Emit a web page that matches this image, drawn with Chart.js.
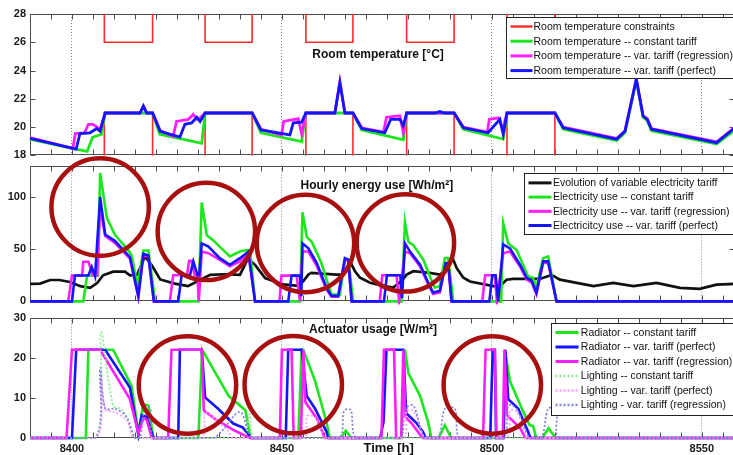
<!DOCTYPE html>
<html><head><meta charset="utf-8">
<script src="https://cdn.jsdelivr.net/npm/chart.js@4"></script>
<style>
html,body{margin:0;padding:0;background:#fff;width:733px;height:455px;overflow:hidden;position:relative;}
canvas{position:absolute;left:0;}
</style></head>
<body>
<canvas id="cTemp" width="735" height="166" style="top:0px"></canvas>
<canvas id="cEnergy" width="735" height="157" style="top:155px"></canvas>
<canvas id="cAct" width="735" height="148" style="top:307px"></canvas>
<script>
// ---------------- DATA (hour, value) ----------------
const X_MIN = 8390, X_MAX = 8557.9;

// Room temperature [°C]
const constraintUpper = [[8390,30],[8407.7,26],[8419.2,30],[8431.7,26],[8442.9,30],[8455.7,26],[8466.9,30],[8479.7,26],[8491,30],[8503.6,26],[8515,30],[8557.9,30]];
const constraintLower = [[8390,16],[8407.7,21],[8419.2,16],[8431.7,21],[8442.9,16],[8455.7,21],[8466.9,16],[8479.7,21],[8491,16],[8503.6,21],[8515,16],[8557.9,16]];
const tempConstant = [[8390,19.15],[8400,18.5],[8403.6,18.28],[8404.9,19.27],[8407,19.5],[8407.9,21],[8419.2,21],[8420.9,19.5],[8430.9,18.85],[8431.7,21],[8442.9,21],[8445,19.6],[8454.7,18.97],[8455.7,21],[8466.9,21],[8469,19.8],[8478.9,19.1],[8479.7,21],[8491,21],[8493.2,19.85],[8502.7,19.15],[8503.6,21],[8515,21],[8517,19.85],[8529.7,19.05],[8531.7,19.6],[8534.4,23.3],[8536,20.7],[8537,20.45],[8538,19.75],[8553.5,18.8],[8557.9,19.8]];
const tempRegression = [[8390,19.25],[8400.2,18.5],[8400.8,19.55],[8403,19.6],[8403.9,20.2],[8405,20.2],[8406.7,19.85],[8407.9,21],[8416.2,21],[8417,21.5],[8417.8,21],[8419.2,21],[8421,19.75],[8424.1,19.35],[8424.9,20.4],[8427.7,20.55],[8428.9,20.9],[8429.7,20.55],[8430.5,20.65],[8431.7,21],[8442.9,21],[8445,19.85],[8449.9,19.45],[8450.4,20.4],[8453.9,20.6],[8454.7,19.5],[8455.7,21],[8462.6,21],[8463.8,23.2],[8465,21],[8466.9,21],[8469,19.95],[8474.2,19.65],[8474.9,20.7],[8478.1,20.8],[8478.9,19.6],[8479.7,21],[8491,21],[8493.2,20],[8498.9,19.65],[8499.4,20.55],[8501.5,20.65],[8502.6,19.85],[8503.6,21],[8515,21],[8517,20],[8529.7,19.2],[8531.7,19.75],[8534.4,23.4],[8536,20.8],[8537,20.6],[8538,19.9],[8553.5,18.95],[8557.9,20]];
const tempPerfect = [[8390,19.2],[8401,18.45],[8401.9,19.55],[8404.3,19.6],[8405.9,19.9],[8406.7,19.7],[8407.9,21],[8416.2,21],[8417,21.5],[8417.8,21],[8419.2,21],[8421,19.7],[8425.7,19.3],[8426.9,20.2],[8428.5,20.3],[8429.7,20.7],[8430.5,20.4],[8431.7,21],[8442.9,21],[8445,19.8],[8451.9,19.45],[8452.7,20.3],[8454.7,20.35],[8455.7,21],[8462.6,21],[8463.8,23.15],[8465,21],[8466.9,21],[8469,19.9],[8474.5,19.6],[8475.9,20.55],[8478.1,20.55],[8478.9,20.1],[8479.7,21],[8486.5,21],[8487.6,21.1],[8488.7,21],[8491,21],[8493.2,19.95],[8499.1,19.6],[8501.9,20.55],[8502.7,19.5],[8503.6,21],[8515,21],[8517,19.95],[8529.7,19.15],[8531.7,19.7],[8534.4,23.4],[8536,20.8],[8537,20.55],[8538,19.85],[8553.5,18.9],[8557.9,19.95]];

// Hourly energy use [Wh/m2]
const tariff = [[8390,16.8],[8392.4,17],[8394.8,20.5],[8397,20.5],[8399.5,18.6],[8402,14.6],[8404.3,13],[8406,17.5],[8407.4,25],[8409.8,28.5],[8412.6,28.5],[8413.8,25],[8415.5,25.5],[8417.4,43],[8419,34.5],[8421,21],[8424.5,17],[8427.6,14.6],[8430.5,20.5],[8432.9,25.4],[8436.4,26],[8440,25.4],[8441.9,41],[8443.6,35],[8446,22.3],[8447.9,19.5],[8450.3,16.3],[8453.9,14.8],[8455.1,19.5],[8456.3,25.7],[8457,27.3],[8463,25.7],[8464.6,25.7],[8466.2,38.3],[8467.4,28.9],[8468.6,22.6],[8471,17.9],[8474.1,14.8],[8476.5,13.2],[8478.5,19.5],[8479.7,25.7],[8481.3,28.9],[8485.2,27.3],[8487.6,25.7],[8489.2,30.4],[8490.6,42],[8491.6,32],[8493.2,22.6],[8494.8,19],[8500.3,14.6],[8501.9,14.6],[8503.5,20.8],[8505.1,21.5],[8511.4,21.5],[8514.2,25.4],[8516.2,20.8],[8520.2,17.7],[8524.2,14.6],[8528.9,17.7],[8533.7,14.6],[8539.2,17.7],[8544.8,13],[8549.5,12],[8553.5,16],[8557.9,16.8]];
const elecConstant = [[8390,0],[8402.7,0],[8403.6,24.8],[8406.2,24.8],[8406.7,123],[8408.3,80],[8410.2,64],[8413.8,47],[8414.2,44],[8415.6,15],[8417,48.7],[8418.2,48.7],[8419.8,0],[8430.1,0],[8430.9,94.7],[8432.1,63.3],[8433.6,58.6],[8437.6,43],[8440,47.7],[8441.6,49.2],[8442.4,49],[8443.6,0],[8454.3,0],[8454.9,85.3],[8455.9,61.8],[8457.1,57.1],[8459.4,36.7],[8460.6,21],[8461.8,6.9],[8463.8,6],[8465,39.8],[8465.8,39.8],[8467,0],[8478.5,0],[8479.3,76],[8480.1,57.1],[8481.3,53.9],[8483.7,39.8],[8485.2,24.1],[8486.4,13.2],[8487.6,14.8],[8488.8,41.4],[8489.6,41.4],[8490.8,0],[8502.2,0],[8502.7,75],[8503.9,55.5],[8505.9,49.2],[8508.6,24.1],[8509.8,22.6],[8510.6,13.2],[8512.2,41.4],[8513.4,43],[8515.4,0],[8557.9,0]];
const elecRegression = [[8390,0],[8399.1,0],[8400,24.8],[8402.4,24.8],[8402.7,37.9],[8403.9,37.9],[8405,25],[8406,25],[8406.7,90],[8407.9,62.7],[8410.2,56],[8413.8,41],[8415.8,4],[8417,44],[8418.2,43],[8419.5,0],[8423.3,0],[8424.1,25.1],[8427.4,25.1],[8427.9,38.9],[8428.5,38.9],[8429.2,25.1],[8429.9,25.1],[8430.2,0],[8430.9,47.7],[8432.5,46.1],[8435.2,39.8],[8437.6,33.6],[8440,38.3],[8442,46.1],[8443.6,0],[8449.4,0],[8449.9,24.7],[8453.5,24.7],[8454.3,0],[8454.9,47.7],[8456.3,47.7],[8458.3,34],[8460.6,11.5],[8461.8,4.5],[8463.4,4.5],[8465,40],[8465.8,39],[8466.6,0],[8473.3,0],[8473.9,25],[8477.3,25],[8477.9,0],[8479.3,47.7],[8480.5,46.1],[8482.9,33.5],[8485.2,13.2],[8486,7],[8487.6,8.5],[8489,35],[8489.6,35],[8490.4,0],[8497.7,0],[8498.4,25],[8500.7,25],[8501.2,0],[8502.7,46.1],[8504.3,47.7],[8506.7,33.5],[8508.3,21],[8509.5,18],[8510.6,6.9],[8512.2,36.7],[8513.4,36.7],[8515.4,0],[8557.9,0]];
const elecPerfect = [[8390,0],[8400,0],[8400.7,24.8],[8403.9,24.8],[8404.7,33],[8405.5,24],[8406.7,100],[8407.9,64],[8410.2,58],[8413.8,42.5],[8415.8,5.3],[8417,45.6],[8418.2,44],[8419.5,0],[8425.3,0],[8426.1,25],[8428.1,25],[8428.9,38.3],[8429.9,25],[8430.3,25],[8430.9,55.5],[8432.5,52.4],[8435.2,41.4],[8437.6,35.1],[8440,41.4],[8442,47.7],[8443.6,0],[8451.5,0],[8452.3,24.7],[8454.3,24.7],[8454.6,5],[8454.9,55.5],[8456.3,50.8],[8458.3,36.7],[8460.6,13.2],[8461.8,5.3],[8463.4,5.3],[8465,41.4],[8465.8,40],[8466.6,0],[8474.3,0],[8475,25],[8478.2,25],[8478.6,3],[8479.3,55.5],[8480.5,47.7],[8482.9,35.1],[8485.2,14.8],[8486,8.5],[8487.6,10.1],[8489,36.7],[8489.6,36.7],[8490.4,0],[8499.4,0],[8500.1,25],[8500.9,25],[8501.5,0],[8502.7,54.6],[8504.3,50.8],[8506.7,35.1],[8508.3,22.6],[8509.5,19.5],[8510.6,8.5],[8512.2,38.3],[8513.4,38.3],[8515.4,0],[8557.9,0]];

// Actuator usage [W/m2]
const radConstant = [[8390,0],[8403.3,0],[8403.9,22],[8409.8,22],[8414.2,13],[8415.8,1.2],[8417,8.4],[8418.2,8.1],[8419.4,0],[8430.1,0],[8431,22],[8437.3,10.5],[8441.3,6.9],[8442.5,0],[8453.9,0],[8454.7,22],[8455.1,21.9],[8457.9,14.2],[8460.6,4],[8461.4,0],[8464,0],[8465.2,1.8],[8466.5,0],[8478.5,0],[8479.3,22],[8480.1,16.2],[8482.9,10.5],[8484.8,4],[8485.6,0],[8487.3,0],[8488.8,3.2],[8490.3,0],[8502.7,0],[8503.1,22],[8504.3,14.2],[8507.5,6.5],[8509,3.2],[8509.8,3],[8510.6,0],[8512,0],[8513.5,2.4],[8515.2,0],[8557.9,0]];
const radPerfect = [[8390,0],[8400,0],[8401,22],[8407.9,22],[8413.8,12.6],[8415.8,0.8],[8416.6,5.7],[8417.8,5.3],[8419.4,0],[8425.3,0],[8425.7,22],[8430.9,22],[8431.7,10.1],[8434.8,7.3],[8438.4,3.6],[8440.7,2.6],[8442.7,0],[8450.9,0],[8451.5,22],[8454.7,22],[8455.9,10.5],[8457.9,7.3],[8460.6,1.6],[8461,0],[8473.4,0],[8474.2,4],[8474.9,22],[8478.9,22],[8479.6,6.2],[8482,3.8],[8483.6,1.5],[8484.2,0],[8499.6,0],[8500.2,22],[8500.7,22],[8501,0],[8502.8,0],[8503.2,22],[8503.9,9.7],[8506.3,7.3],[8508.6,1.6],[8509.2,0],[8557.9,0]];
const radRegression = [[8390,0],[8398.7,0],[8400,22],[8406.7,22],[8413.8,9.7],[8415.8,1.2],[8417,4.9],[8417.8,4.5],[8419,0],[8422.9,0],[8423.7,22],[8430.9,22],[8431.4,6.9],[8434.4,4.5],[8438.4,2],[8442,0.2],[8442.5,0],[8449.5,0],[8450,22],[8452.3,22],[8452.8,0],[8454.5,0],[8455.1,22],[8455.6,8.9],[8458.3,4.9],[8460.2,0],[8473.7,0],[8474.3,22],[8476.7,22],[8477.2,0],[8478.4,0],[8478.9,22],[8479.4,5.3],[8481,3.5],[8483.5,0],[8497.9,0],[8498.5,22],[8500.7,22],[8501.1,0],[8502.6,0],[8503,22],[8503.6,5.7],[8506.7,2.5],[8508,0],[8557.9,0]];
const lightConstant = [[8390,0],[8405.6,0],[8406.9,26.3],[8409.8,8.1],[8412,7],[8414.5,1],[8415,0],[8440.5,0],[8442.3,6],[8443.8,0],[8557.9,0]];
const lightPerfect = [[8390,0],[8405.8,0],[8406.8,15],[8408,7],[8410,6.5],[8413,4.5],[8415,0],[8431,0],[8431.7,6.5],[8434.4,4.5],[8437,2],[8438.5,0],[8455.3,0],[8456,5.5],[8458,5],[8459.5,1.5],[8460,0],[8478.9,0],[8479.7,6.9],[8481.5,6.5],[8483.5,1],[8484,0],[8503.5,0],[8504.3,6.8],[8506,6.5],[8508,1],[8508.5,0],[8557.9,0]];
const lightRegression = [[8390,0],[8405.5,0],[8406.7,17.4],[8407.9,7.3],[8410.2,7.3],[8413,5.3],[8415,0],[8416.2,0],[8417.3,7.5],[8418.6,7.5],[8419.6,0],[8433.6,0],[8440,6.5],[8443.2,0],[8463.5,0],[8464.8,6.8],[8466.4,7],[8467.7,0],[8478.1,0],[8479.3,7.3],[8481.3,8.1],[8484,0],[8487.2,0],[8488.8,7.3],[8491.2,7.3],[8492.4,0],[8502.7,0],[8503.9,8.1],[8505.9,7.3],[8509,0],[8511.8,0],[8513.4,7.3],[8515.4,7.3],[8516.2,0],[8557.9,0]];

// Hand-drawn highlight circles (centre hour, centre value)
const energyCircles = [[8406.7,90.3],[8432,67],[8455.6,55.5],[8479.4,56]];
const actuatorCircles = [[8427.5,13.2],[8452.7,13.3],[8500.1,13.2]];
const circleRadiusHours = 11.6;

// ---------------- RENDERING ----------------
const FONT = '"Liberation Sans", Arial, Helvetica, sans-serif';
const tickFont = {family: FONT, size: 11, weight: 'bold'};
const isMajor = v => Math.abs(v - Math.round(v / 50) * 50) < 1e-6;

function ds(label, pts, color, width, extra) {
  return Object.assign({
    label, data: pts.map(p => ({x: p[0], y: p[1]})),
    borderColor: color, backgroundColor: color, borderWidth: width,
    pointRadius: 0, fill: false, tension: 0, clip: 3, legendWidth: 3
  }, extra || {});
}

const framePlugin = {
  id: 'frame',
  beforeDatasetsDraw(chart) {
    const {ctx, chartArea: a, scales} = chart;
    const L = Math.round(a.left) + 0.5, R = Math.round(a.right) - 0.5;
    const T = Math.round(a.top) + 0.5, B = Math.round(a.bottom) - 0.5;
    ctx.save();
    ctx.strokeStyle = '#4d4d4d'; ctx.lineWidth = 1;
    ctx.beginPath();
    ctx.rect(L, T, R - L, B - T);
    scales.x.ticks.forEach(t => {
      const px = Math.round(scales.x.getPixelForValue(t.value)) + 0.5;
      ctx.moveTo(px, B); ctx.lineTo(px, B - 5);
      ctx.moveTo(px, T); ctx.lineTo(px, T + 5);
    });
    scales.y.ticks.forEach(t => {
      const py = Math.round(scales.y.getPixelForValue(t.value)) + 0.5;
      ctx.moveTo(L, py); ctx.lineTo(L + 5, py);
      ctx.moveTo(R, py); ctx.lineTo(R - 5, py);
    });
    ctx.stroke();
    ctx.restore();
  },
  afterDatasetsDraw(chart, args, opts) {
    const {ctx, chartArea: a, scales} = chart;
    ctx.save();
    if (opts.title) {
      ctx.font = 'bold 12px ' + FONT;
      ctx.fillStyle = '#111'; ctx.textAlign = 'center'; ctx.textBaseline = 'middle';
      ctx.fillText(opts.title, scales.x.getPixelForValue(opts.titleAt[0]), scales.y.getPixelForValue(opts.titleAt[1]));
    }
    if (opts.xlabel) {
      ctx.font = 'bold 13px ' + FONT;
      ctx.fillStyle = '#111'; ctx.textAlign = 'center'; ctx.textBaseline = 'middle';
      ctx.fillText(opts.xlabel, scales.x.getPixelForValue(opts.xlabelAt), a.bottom + 10);
    }
    const lg = opts.legend;
    if (lg) {
      const items = chart.data.datasets.filter(d => !d.noLegend);
      const x0 = Math.round(a.left + lg.dx) + 0.5, y0 = Math.round(a.top + lg.dy) + 0.5;
      ctx.fillStyle = '#fff';
      ctx.fillRect(x0, y0, 400, lg.h);
      ctx.strokeStyle = '#222'; ctx.lineWidth = 1;
      ctx.strokeRect(x0, y0, 400, lg.h);
      ctx.font = '10.5px ' + FONT; ctx.textAlign = 'left'; ctx.textBaseline = 'middle';
      items.forEach((d, i) => {
        const y = y0 + lg.first + i * lg.row;
        ctx.beginPath();
        ctx.setLineDash(d.legendDash || []);
        ctx.strokeStyle = d.borderColor; ctx.lineWidth = d.legendWidth || d.borderWidth;
        ctx.moveTo(x0 + lg.lx0, y); ctx.lineTo(x0 + lg.lx1, y); ctx.stroke();
        ctx.setLineDash([]);
        ctx.fillStyle = '#111';
        ctx.fillText(d.label, x0 + lg.tx, y + 0.5);
      });
    }
    ctx.restore();
  },
  afterDraw(chart, args, opts) {
    if (!opts.circles) return;
    const {ctx, scales} = chart;
    ctx.save();
    ctx.strokeStyle = '#a81010'; ctx.lineWidth = 4.5;
    opts.circles.forEach(c => {
      const cx = scales.x.getPixelForValue(c[0]);
      const cy = scales.y.getPixelForValue(c[1]);
      const r = scales.x.getPixelForValue(c[0] + opts.circleR) - cx;
      ctx.beginPath(); ctx.arc(cx, cy, r, 0, Math.PI * 2); ctx.stroke();
    });
    ctx.restore();
  }
};

function makeChart(id, datasets, cfg) {
  datasets.forEach((d, i) => { d.order = -i; });
  return new Chart(document.getElementById(id), {
    type: 'line',
    data: {datasets},
    plugins: [framePlugin],
    options: {
      responsive: false, animation: false, events: [],
      layout: {padding: cfg.padding},
      plugins: {legend: {display: false}, tooltip: {enabled: false}, frame: cfg.frame},
      scales: {
        x: {
          type: 'linear', min: X_MIN, max: X_MAX,
          afterFit: s => { s.height = cfg.xHeight; },
          border: {display: false, dash: [1, 2]},
          grid: {drawTicks: false, lineWidth: 1, color: c => (c.tick && isMajor(c.tick.value)) ? '#8a8a8a' : 'rgba(0,0,0,0)'},
          ticks: {display: cfg.xLabels, stepSize: 5, includeBounds: false, autoSkip: false, maxRotation: 0, padding: 4,
                  color: '#1a1a1a', font: tickFont, callback: v => isMajor(v) ? String(Math.round(v)) : ''}
        },
        y: {
          type: 'linear', min: cfg.yMin, max: cfg.yMax,
          afterFit: s => { s.width = 30; },
          border: {display: false}, grid: {display: false, drawTicks: false},
          ticks: {stepSize: cfg.yStep, includeBounds: false, autoSkip: false, padding: 4, color: '#1a1a1a', font: tickFont}
        }
      }
    }
  });
}

const GREEN = '#1ee61e', MAGENTA = '#ff1eff', BLUE = '#1414ff', RED = '#ff2a2a';

makeChart('cTemp', [
  ds('Room temperature constraints', constraintUpper, RED, 1.6, {stepped: true, clip: 0, legendWidth: 2.4}),
  ds('', constraintLower, RED, 1.6, {stepped: true, clip: 0, noLegend: true}),
  ds('Room temperature -- constant tariff', tempConstant, GREEN, 2.8),
  ds('Room temperature -- var. tariff (regression)', tempRegression, MAGENTA, 2.8),
  ds('Room temperature -- var. tariff (perfect)', tempPerfect, BLUE, 2.8)
], {
  padding: {top: 14, bottom: 8, left: 0, right: 0}, xHeight: 0, xLabels: false,
  yMin: 18, yMax: 28, yStep: 2,
  frame: {title: 'Room temperature [°C]', titleAt: [8472.9, 25.15],
          legend: {dx: 476, dy: 3, h: 61, first: 9, row: 14.7, lx0: 4, lx1: 26, tx: 27}}
});

makeChart('cEnergy', [
  ds('Evolution of variable electricity tariff', tariff, '#111111', 2.7),
  ds('Electricity use -- constant tariff', elecConstant, GREEN, 2.6),
  ds('Electricity use -- var. tariff (regression)', elecRegression, MAGENTA, 2.6),
  ds('Electricitcy use -- var. tariff (perfect)', elecPerfect, BLUE, 2.6)
], {
  padding: {top: 10, bottom: 8, left: 0, right: 0}, xHeight: 0, xLabels: false,
  yMin: 0, yMax: 130, yStep: 50,
  frame: {title: 'Hourly energy use [Wh/m²]', titleAt: [8472.6, 110.4],
          legend: {dx: 494, dy: 7, h: 61, first: 9.4, row: 14.2, lx0: 4, lx1: 27, tx: 28.5},
          circles: energyCircles, circleR: circleRadiusHours}
});

makeChart('cAct', [
  ds('Radiator -- constant tariff', radConstant, GREEN, 2.6),
  ds('Radiator -- var. tariff (perfect)', radPerfect, BLUE, 2.6),
  ds('Radiator -- var. tariff (regression)', radRegression, MAGENTA, 2.6),
  ds('Lighting -- constant tariff', lightConstant, '#8cec8c', 1.7, {borderDash: [2, 2], legendDash: [2, 2], legendWidth: 2.4, tension: 0.3}),
  ds('Lighting -- var. tariff (perfect)', lightPerfect, '#ff9cff', 1.7, {borderDash: [2, 2], legendDash: [2, 2], legendWidth: 2.4, tension: 0.3}),
  ds('Lighting - var. tariff (regression)', lightRegression, '#8080dc', 1.7, {borderDash: [2, 2], legendDash: [2, 2], legendWidth: 2.4, tension: 0.3})
], {
  padding: {top: 8, bottom: 0, left: 0, right: 0}, xHeight: 17, xLabels: true,
  yMin: 0, yMax: 30, yStep: 10,
  frame: {title: 'Actuator usage [W/m²]', titleAt: [8471.7, 27.1], xlabel: 'Time [h]', xlabelAt: 8475.4,
          legend: {dx: 521, dy: 5, h: 92, first: 9, row: 14.5, lx0: 4, lx1: 27, tx: 29.3},
          circles: actuatorCircles, circleR: circleRadiusHours}
});
</script>
</body></html>
